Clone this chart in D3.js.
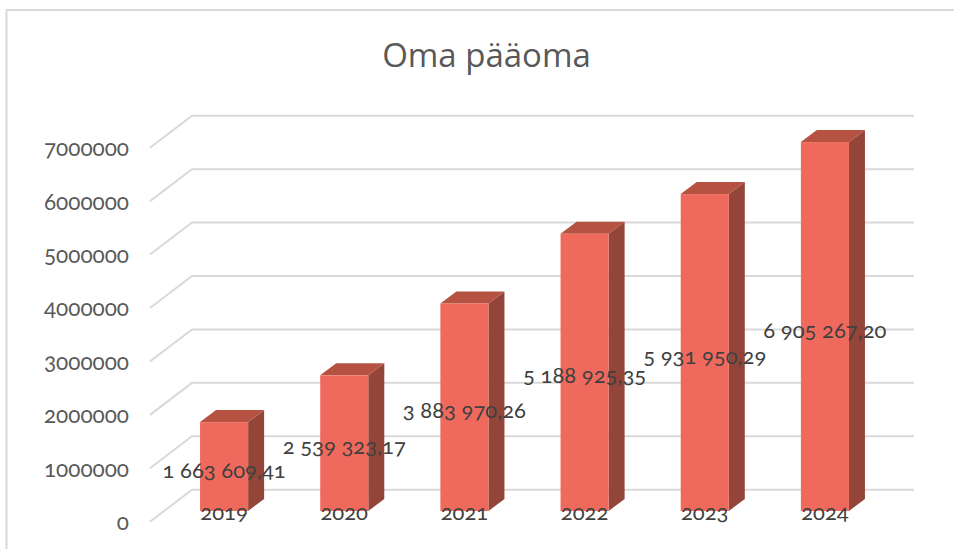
<!DOCTYPE html>
<html><head><meta charset="utf-8">
<script src="https://cdn.jsdelivr.net/npm/d3@7/dist/d3.min.js"></script>
<style>
html,body{margin:0;padding:0;background:#fff}
svg{display:block}
text{font-family:Lato,"Open Sans",sans-serif;font-variant-numeric:oldstyle-nums;font-feature-settings:"onum" 1}
.title{font-family:"Open Sans",sans-serif}
</style></head><body><div id="c"></div>
<script>
const title = "Oma pääoma";
const categories = ["2019","2020","2021","2022","2023","2024"];
const values = [1663609.41,2539323.17,3883970.26,5188925.35,5931950.29,6905267.20];
const valueLabels = ["1 663 609,41","2 539 323,17","3 883 970,26","5 188 925,35","5 931 950,29","6 905 267,20"];
const yTicks = [0,1000000,2000000,3000000,4000000,5000000,6000000,7000000];

const W=954,H=549;
const svg=d3.select("#c").append("svg").attr("width",W).attr("height",H);
const y=d3.scaleLinear().domain([0,7000000]).range([511,137]);
const x=d3.scaleBand().domain(categories).range([164,885]).paddingInner(0.6).paddingOuter(0.3);
const depthX=16,depthY=12;
const wallDx=42,wallDy=-32;
const frontX=150,backRight=914;
const gridColor="#d9d9d9",textColor="#595959";

svg.append("path").attr("d",`M6.5,549V10H${W}`).attr("fill","none").attr("stroke",gridColor).attr("stroke-width",2);

svg.append("text").attr("class","title").attr("x",486.5).attr("y",67).attr("text-anchor","middle").attr("font-size",33).attr("fill",textColor).text(title);

const g=svg.append("g");
const gy=v=>y(v)+10.7;
g.selectAll("path.grid").data(yTicks).join("path").attr("class","grid")
 .attr("d",v=>`M${frontX},${gy(v)}L${frontX+wallDx},${gy(v)+wallDy}H${backRight}`)
 .attr("fill","none").attr("stroke",gridColor).attr("stroke-width",2);

g.selectAll("text.yt").data(yTicks).join("text").attr("class","yt")
 .attr("x",129).attr("y",v=>gy(v)+8.4).attr("text-anchor","end")
 .attr("font-size",22.5).attr("fill",textColor).text(v=>d3.format("d")(v));

const bars=g.selectAll("g.bar").data(categories.map((c,i)=>({c,v:values[i],l:valueLabels[i],i}))).join("g").attr("class","bar");
const bw=x.bandwidth();
bars.append("path").attr("fill","#93453a")
 .attr("d",d=>{const r=x(d.c)+bw,t=y(d.v),b=y(0);return `M${r},${t}L${r+depthX},${t-depthY}V${b-depthY}L${r},${b}Z`});
bars.append("path").attr("fill","#b55242")
 .attr("d",d=>{const l=x(d.c),r=l+bw,t=y(d.v);return `M${l},${t}L${l+depthX},${t-depthY}H${r+depthX}L${r},${t}Z`});
bars.append("rect").attr("fill","#ef6a5c")
 .attr("x",d=>x(d.c)).attr("y",d=>y(d.v)).attr("width",bw).attr("height",d=>y(0)-y(d.v));

g.selectAll("text.cat").data(categories).join("text").attr("class","cat")
 .attr("x",c=>x(c)+bw/2).attr("y",520).attr("text-anchor","middle")
 .attr("font-size",22).attr("fill","#404040").text(c=>c);

g.selectAll("text.val").data(valueLabels).join("text").attr("class","val")
 .attr("x",(l,i)=>x(categories[i])+bw/2).attr("y",(l,i)=>(y(values[i])+y(0))/2+11)
 .attr("text-anchor","middle").attr("font-size",22).attr("fill","#404040").text(l=>l);
</script></body></html>
